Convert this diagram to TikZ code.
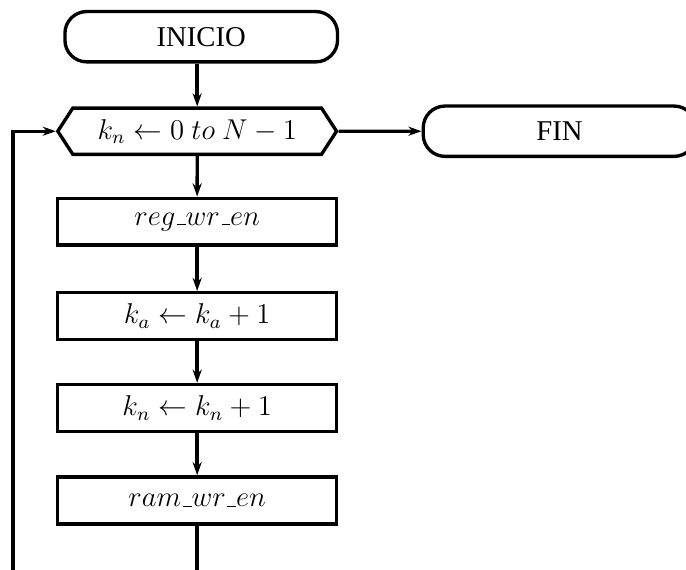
\documentclass[tikz,border=0pt,12pt]{standalone}
\usepackage{amsmath,amssymb}
\usepackage{fontspec}
\setmainfont{Liberation Serif}
\usepackage{tikz}
\usetikzlibrary{arrows.meta,positioning,shapes.symbols}

% low rule used between the parts of signal names
\newcommand{\usc}{\kern.06em\vbox{\hrule width.3em}}

\begin{document}
\begin{tikzpicture}[
  terminal/.style={draw, line width=1.4pt, rounded corners=0.32cm,
    minimum width=4.01cm, minimum height=0.74cm},
  loophead/.style={draw, line width=1.4pt, signal, signal to=west and east,
    signal pointer angle=114, minimum width=4.1cm, minimum height=0.68cm},
  process/.style={draw, line width=1.4pt, minimum width=4.1cm,
    minimum height=0.69cm},
  flow/.style={line width=1.4pt, -{Stealth[length=5.5pt, width=3.8pt]}}
]
\useasboundingbox (0,0) rectangle (10.09,-8.37);
\clip (0,0) rectangle (10.09,-8.37);

% Start and end of the loop
\node[terminal] (inicio) at (2.96,-0.54) {INICIO};
\node[loophead] (loop) at (2.90,-1.93) {$k_n \leftarrow 0\ to\ N-1$};
\node[terminal] (fin) at (8.23,-1.93) {FIN};

% Loop body
\node[process] (regwr) at (2.90,-3.26) {$reg\usc wr\usc en$};
\node[process] (kainc) at (2.90,-4.65) {$k_a \leftarrow k_a + 1$};
\node[process] (kninc) at (2.90,-6.00) {$k_n \leftarrow k_n + 1$};
\node[process] (ramwr) at (2.90,-7.36) {$ram\usc wr\usc en$};

\draw[flow] (inicio.south -| loop.north) -- (loop.north);
\draw[flow] (loop) -- (fin);
\draw[flow] (loop) -- (regwr);
\draw[flow] (regwr) -- (kainc);
\draw[flow] (kainc) -- (kninc);
\draw[flow] (kninc) -- (ramwr);

% Return path back to the loop head
\coordinate (out) at (2.90,-8.6);
\coordinate (back) at (0.19,-8.6);
\draw[line width=1.4pt] (ramwr) -- (out);
\draw[flow] (back) |- (loop);

\end{tikzpicture}
\end{document}
